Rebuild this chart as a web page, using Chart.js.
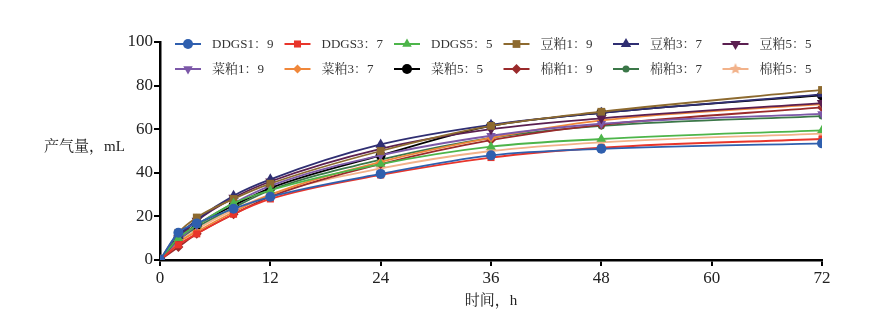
<!DOCTYPE html>
<html>
<head>
<meta charset="utf-8">
<script src="https://cdn.jsdelivr.net/npm/chart.js@4/dist/chart.umd.min.js"></script>
<style>
  body { margin: 0; background: #fff; }
  #wrap { width: 870px; height: 333px; position: relative; }
</style>
</head>
<body>
<div id="wrap"><canvas id="gasChart" width="870" height="333"></canvas></div>
<script>
const hours = [0, 2, 4, 8, 12, 24, 36, 48, 72];
const xTicks = [0, 12, 24, 36, 48, 60, 72];
const yTicks = [0, 20, 40, 60, 80, 100];

const seriesNames = [
  "DDGS1：9", "DDGS3：7", "DDGS5：5", "豆粕1：9", "豆粕3：7", "豆粕5：5",
  "菜粕1：9", "菜粕3：7", "菜粕5：5", "棉粕1：9", "棉粕3：7", "棉粕5：5",
];

const ddgs19 = [0, 12.5, 16.8, 23.5, 29, 39.5, 48, 51, 53.5];
const ddgs37 = [0, 7, 12, 21, 28, 39, 47, 51.5, 55.5];
const ddgs55 = [0, 10, 16, 26, 32, 44, 52, 55.5, 59.5];
const dou19 = [0, 12.5, 19.5, 28, 35, 50, 61.5, 68, 78];
const dou37 = [0, 11, 18.5, 29.5, 37, 53, 62, 67.5, 76];
const dou55 = [0, 10, 18, 28.5, 36, 51, 60, 65, 72];
const cai19 = [0, 9, 16, 26, 34, 48, 57, 62.5, 67];
const cai37 = [0, 8, 13, 22, 30, 45, 56, 64, 71.5];
const cai55 = [0, 10, 16, 25, 33, 48, 61.5, 67.5, 75.5];
const mian19 = [0, 6, 12, 21, 29, 44, 55, 62, 70];
const mian37 = [0, 9, 15, 24, 32, 46, 56, 61.5, 66];
const mian55 = [0, 8, 14, 23, 30, 42, 50, 54, 58];

const seriesValues = [ddgs19, ddgs37, ddgs55, dou19, dou37, dou55,
  cai19, cai37, cai55, mian19, mian37, mian55];

const colors = ["#2f5fae", "#e8352b", "#4db54a", "#8d6a2f", "#2f2e72", "#5b1f50",
  "#7c58a8", "#f0873a", "#000000", "#9a2a2b", "#3b7748", "#f2b28a"];

// filled five point star, Chart.js' own "star" is only strokes
function makeStar(color, r) {
  const c = document.createElement("canvas");
  c.width = c.height = r * 2 + 2;
  const g = c.getContext("2d");
  g.fillStyle = color;
  g.beginPath();
  for (let k = 0; k < 10; k++) {
    const rad = k % 2 === 0 ? r : r * 0.45;
    const a = -Math.PI / 2 + k * Math.PI / 5;
    const px = r + 1 + rad * Math.cos(a);
    const py = r + 1 + rad * Math.sin(a);
    if (k === 0) g.moveTo(px, py); else g.lineTo(px, py);
  }
  g.closePath();
  g.fill();
  return c;
}

const styles = [
  { style: "circle", r: 5, rot: 0 },
  { style: "rect", r: 5, rot: 0 },
  { style: "triangle", r: 5.5, rot: 0 },
  { style: "rect", r: 5.5, rot: 0 },
  { style: "triangle", r: 6, rot: 0 },
  { style: "triangle", r: 6, rot: 180 },
  { style: "triangle", r: 5.5, rot: 180 },
  { style: "rectRot", r: 4.5, rot: 0 },
  { style: "circle", r: 5, rot: 0 },
  { style: "rectRot", r: 5, rot: 0 },
  { style: "circle", r: 3.5, rot: 0 },
  { style: makeStar(colors[11], 6), r: 6, rot: 0 },
];

const datasets = seriesNames.map((name, i) => ({
  label: name,
  data: hours.map((h, j) => ({ x: h, y: seriesValues[i][j] })),
  borderColor: colors[i],
  backgroundColor: colors[i],
  borderWidth: 1.8,
  pointStyle: styles[i].style,
  pointRadius: styles[i].r,
  pointRotation: styles[i].rot,
  pointBorderWidth: 0,
  cubicInterpolationMode: "monotone",
}));

const serif = "'Liberation Serif', 'Noto Serif CJK SC', 'Noto Sans CJK SC', serif";

const gridLegend = {
  id: "gridLegend",
  afterDraw(chart) {
    const ctx = chart.ctx;
    ctx.save();
    ctx.font = "13px " + serif;
    ctx.textBaseline = "middle";
    ctx.textAlign = "left";
    chart.data.datasets.forEach((ds, i) => {
      const cx = 188 + (i % 6) * 109.5;
      const cy = 44 + Math.floor(i / 6) * 25;
      ctx.strokeStyle = ds.borderColor;
      ctx.lineWidth = 2;
      ctx.beginPath();
      ctx.moveTo(cx - 13, cy);
      ctx.lineTo(cx + 13, cy);
      ctx.stroke();
      ctx.fillStyle = ds.backgroundColor;
      ctx.strokeStyle = ds.borderColor;
      Chart.helpers.drawPoint(ctx, {
        pointStyle: ds.pointStyle,
        radius: ds.pointRadius,
        rotation: ds.pointRotation,
        borderWidth: 0,
      }, cx, cy);
      ctx.fillStyle = "#333";
      ctx.fillText(ds.label, cx + 24, cy + 1);
    });
    // y axis title, written flat
    ctx.font = "15px " + serif;
    ctx.fillStyle = "#222";
    ctx.fillText("产气量，mL", 44, 147);
    ctx.restore();
  },
};

const ctx = document.getElementById("gasChart").getContext("2d");
const chart = new Chart(ctx, {
  type: "line",
  data: { datasets: datasets },
  options: {
    responsive: false,
    animation: false,
    layout: { padding: { left: 100, right: 48, top: 42, bottom: 19 } },
    scales: {
      x: {
        type: "linear",
        min: 0,
        max: 72,
        afterBuildTicks: (scale) => { scale.ticks = xTicks.map((v) => ({ value: v })); },
        afterFit: (scale) => { scale.height = 54; },
        grid: { drawOnChartArea: false, drawTicks: true, tickLength: 6, color: "#000", lineWidth: 2 },
        border: { color: "#000", width: 2.5 },
        ticks: { color: "#222", font: { family: serif, size: 17 }, padding: 2 },
        title: { display: true, text: "时间，h", color: "#222", font: { family: serif, size: 15 }, padding: { top: 2 } },
      },
      y: {
        min: 0,
        max: 100,
        afterBuildTicks: (scale) => { scale.ticks = yTicks.map((v) => ({ value: v })); },
        afterFit: (scale) => { scale.width = 60; },
        grid: { drawOnChartArea: false, drawTicks: true, tickLength: 6, color: "#000", lineWidth: 2 },
        border: { color: "#000", width: 2.5 },
        ticks: { color: "#222", font: { family: serif, size: 17 }, padding: 1 },
      },
    },
    plugins: {
      legend: { display: false },
      tooltip: { enabled: false },
    },
  },
  plugins: [gridLegend],
});
</script>
</body>
</html>
